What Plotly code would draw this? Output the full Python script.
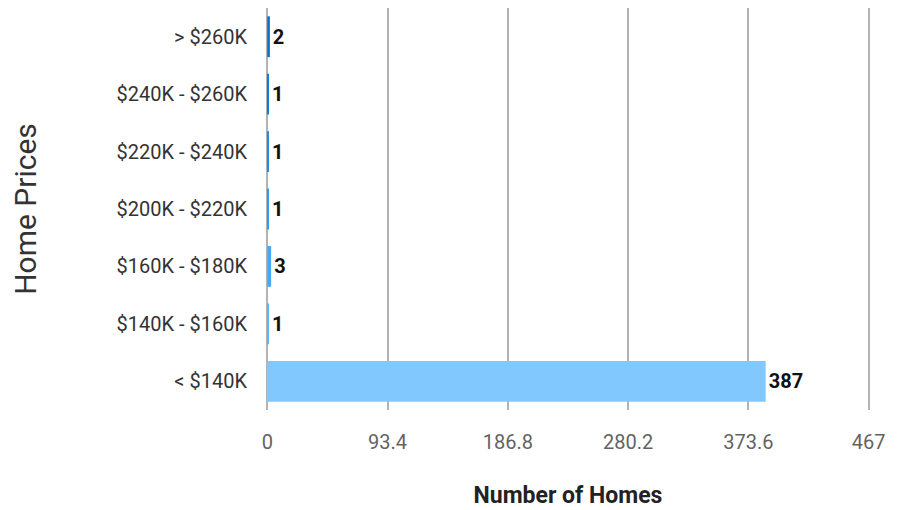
import plotly.graph_objects as go

categories = ["< $140K", "$140K - $160K", "$160K - $180K", "$200K - $220K",
              "$220K - $240K", "$240K - $260K", "> $260K"]
values = [387, 1, 3, 1, 1, 1, 2]
colors = ["#80c8ff", "#5cb6fb", "#45a9f7", "#2f9bf1", "#1b8de7", "#0b7fd9", "#0a6ec4"]
tick_vals = [0, 93.4, 186.8, 280.2, 373.6, 467]
tick_text = ["0", "93.4", "186.8", "280.2", "373.6", "467"]

fig = go.Figure(go.Bar(
    y=categories, x=values, orientation="h",
    marker=dict(color=colors, line=dict(width=0)),
    text=[str(v) for v in values], textposition="outside",
    textfont=dict(family="Roboto", size=20, color="#111111", weight="bold"),
    cliponaxis=False, width=0.71,
))

fig.update_layout(
    width=901, height=510,
    margin=dict(l=258, r=39, t=0, b=108),
    paper_bgcolor="white", plot_bgcolor="white",
    font=dict(family="Roboto"),
    showlegend=False,
    xaxis=dict(
        range=[-1, 468], tickvals=tick_vals, ticktext=tick_text,
        showgrid=True, gridcolor="#b3b3b3", gridwidth=2,
        zeroline=False, showline=False,
        tickfont=dict(size=20, color="#636363"),
        ticklabelstandoff=18,
        title=dict(text="Number of Homes", font=dict(size=23, color="#222222", weight="bold"), standoff=33),
        fixedrange=True,
    ),
    yaxis=dict(
        categoryorder="array", categoryarray=categories,
        range=[-0.5, 6.5],
        showgrid=False, zeroline=False, showline=False,
        tickfont=dict(size=20, color="#333333"),
        ticklabelstandoff=18,
        title=dict(text="Home Prices", font=dict(size=30, color="#333333"), standoff=72),
        fixedrange=True,
    ),
)

fig.write_html("out.html")
